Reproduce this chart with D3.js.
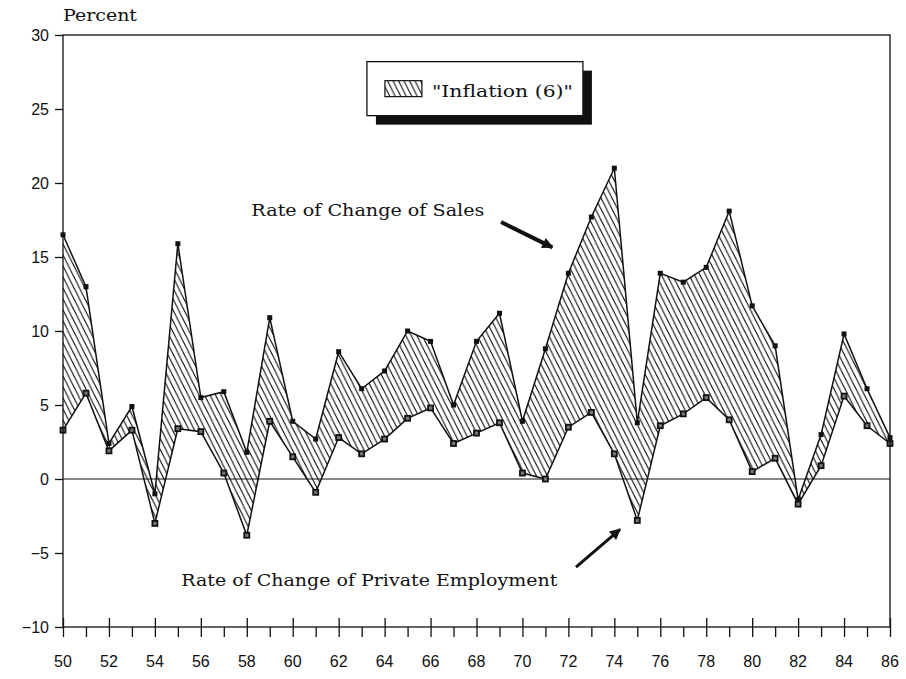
<!DOCTYPE html>
<html lang="en">
<head>
  <meta charset="UTF-8">
  <title>Rate of Change of Sales and Private Employment</title>
  <script src="https://d3js.org/d3.v7.min.js"></script>
  <style>
    body {
      margin: 0;
      padding: 0;
      background: #fff;
    }
    .axis text {
      font-family: 'Liberation Sans', Arial, sans-serif;
      font-size: 16px;
      fill: #111;
    }
    .axis path, .axis line {
      stroke: #111;
      stroke-width: 1.3;
    }
    .serif {
      font-family: 'DejaVu Serif', serif;
      font-size: 16px;
      fill: #111;
    }
  </style>
</head>
<body>
  <div id="chart"></div>

  <script>
    // years (19xx) and the two series, percent change
    const years = [50, 51, 52, 53, 54, 55, 56, 57, 58, 59, 60, 61, 62, 63, 64, 65, 66, 67, 68,
                   69, 70, 71, 72, 73, 74, 75, 76, 77, 78, 79, 80, 81, 82, 83, 84, 85, 86];
    const sales = [16.5, 13.0, 2.4, 4.9, -1.0, 15.9, 5.5, 5.9, 1.8, 10.9, 3.9, 2.7, 8.6, 6.1, 7.3, 10.0, 9.3, 5.0, 9.3,
                   11.2, 3.9, 8.8, 13.9, 17.7, 21.0, 3.8, 13.9, 13.3, 14.3, 18.1, 11.7, 9.0, -1.4, 3.0, 9.8, 6.1, 2.8];
    const employment = [3.3, 5.8, 1.9, 3.3, -3.0, 3.4, 3.2, 0.4, -3.8, 3.9, 1.5, -0.9, 2.8, 1.7, 2.7, 4.1, 4.8, 2.4, 3.1,
                        3.8, 0.4, 0.0, 3.5, 4.5, 1.7, -2.8, 3.6, 4.4, 5.5, 4.0, 0.5, 1.4, -1.7, 0.9, 5.6, 3.6, 2.4];
    const yTicks = [-10, -5, 0, 5, 10, 15, 20, 25, 30];
    const xLabelTicks = [50, 52, 54, 56, 58, 60, 62, 64, 66, 68, 70, 72, 74, 76, 78, 80, 82, 84, 86];
    const legendLabel = '"Inflation (6)"';

    const rows = years.map((yr, i) => ({ yr: yr, s: sales[i], e: employment[i] }));

    const W = 906, H = 679;
    const margin = { top: 35, right: 16, bottom: 52, left: 63 };
    const width = W - margin.left - margin.right;
    const height = H - margin.top - margin.bottom;

    const svg = d3.select("#chart").append("svg")
      .attr("width", W)
      .attr("height", H);

    const defs = svg.append("defs");

    // diagonal hatch "\\\\"
    const pat = defs.append("pattern")
      .attr("id", "hatch")
      .attr("patternUnits", "userSpaceOnUse")
      .attr("width", 5.5)
      .attr("height", 11);
    pat.append("path")
      .attr("d", "M-1,-2 L6.5,13 M-6.5,-2 L1,13 M4.5,-2 L12,13")
      .attr("stroke", "#111")
      .attr("stroke-width", 1.1);

    defs.append("marker")
      .attr("id", "arrowhead")
      .attr("viewBox", "0 0 10 10")
      .attr("refX", 9)
      .attr("refY", 5)
      .attr("markerUnits", "userSpaceOnUse")
      .attr("markerWidth", 13)
      .attr("markerHeight", 11)
      .attr("orient", "auto")
      .append("path")
      .attr("d", "M0,0 L10,5 L0,10 Z")
      .attr("fill", "#111");

    const g = svg.append("g")
      .attr("transform", `translate(${margin.left},${margin.top})`);

    const x = d3.scaleLinear().domain([50, 86]).range([0, width]);
    const y = d3.scaleLinear().domain([-10, 30]).range([height, 0]);

    // hatched band between the two series
    const band = d3.area()
      .x(d => x(d.yr))
      .y0(d => y(d.e))
      .y1(d => y(d.s));
    g.append("path")
      .datum(rows)
      .attr("d", band)
      .attr("fill", "url(#hatch)")
      .attr("stroke", "none");

    // zero line
    g.append("line")
      .attr("x1", 0).attr("x2", width)
      .attr("y1", y(0)).attr("y2", y(0))
      .attr("stroke", "#111")
      .attr("stroke-width", 1.2);

    // series lines
    const lineS = d3.line().x(d => x(d.yr)).y(d => y(d.s));
    const lineE = d3.line().x(d => x(d.yr)).y(d => y(d.e));
    g.append("path").datum(rows).attr("d", lineS)
      .attr("fill", "none").attr("stroke", "#111").attr("stroke-width", 1.5);
    g.append("path").datum(rows).attr("d", lineE)
      .attr("fill", "none").attr("stroke", "#111").attr("stroke-width", 1.5);

    // markers
    g.selectAll(".mk-s").data(rows).enter().append("rect")
      .attr("class", "mk-s")
      .attr("x", d => x(d.yr) - 2.5)
      .attr("y", d => y(d.s) - 2.5)
      .attr("width", 5).attr("height", 5)
      .attr("fill", "#111");
    g.selectAll(".mk-e").data(rows).enter().append("rect")
      .attr("class", "mk-e")
      .attr("x", d => x(d.yr) - 2.5)
      .attr("y", d => y(d.e) - 2.5)
      .attr("width", 5).attr("height", 5)
      .attr("fill", "#777")
      .attr("stroke", "#111")
      .attr("stroke-width", 1.8);

    // frame
    g.append("rect")
      .attr("width", width).attr("height", height)
      .attr("fill", "none")
      .attr("stroke", "#111")
      .attr("stroke-width", 1.3);

    // y axis
    const yAxis = g.append("g").attr("class", "axis")
      .call(d3.axisLeft(y).tickValues(yTicks).tickSize(8).tickPadding(6).tickFormat(d => d < 0 ? "\u2212" + Math.abs(d) : d));
    yAxis.select(".domain").remove();

    // x axis: every year ticks below, labelled even years also poke above
    const xAxis = g.append("g").attr("class", "axis")
      .attr("transform", `translate(0,${height})`)
      .call(d3.axisBottom(x).tickValues(years).tickSize(10).tickFormat(""));
    xAxis.select(".domain").remove();
    xAxis.selectAll(".tick line")
      .attr("y1", d => xLabelTicks.includes(d) ? -9 : 0);

    g.append("g").attr("class", "axis")
      .selectAll("text").data(xLabelTicks).enter().append("text")
      .attr("x", d => x(d))
      .attr("y", height + 40)
      .attr("text-anchor", "middle")
      .text(d => d);

    // y title
    svg.append("text")
      .attr("class", "serif")
      .attr("x", margin.left)
      .attr("y", 21)
      .attr("textLength", 74)
      .attr("lengthAdjust", "spacingAndGlyphs")
      .text("Percent");

    // legend with drop shadow
    const lg = g.append("g").attr("transform", `translate(${x(63.23)},${y(28.2)})`);
    lg.append("rect")
      .attr("x", 9).attr("y", 9)
      .attr("width", 216).attr("height", 54)
      .attr("fill", "#111");
    lg.append("rect")
      .attr("width", 216).attr("height", 54)
      .attr("fill", "#fff")
      .attr("stroke", "#111")
      .attr("stroke-width", 1.3);
    lg.append("rect")
      .attr("x", 18).attr("y", 19)
      .attr("width", 37).attr("height", 16)
      .attr("fill", "url(#hatch)")
      .attr("stroke", "#111")
      .attr("stroke-width", 1.2);
    lg.append("text")
      .attr("class", "serif")
      .attr("x", 65)
      .attr("y", 35)
      .attr("textLength", 141)
      .attr("lengthAdjust", "spacingAndGlyphs")
      .text(legendLabel);

    // annotations
    g.append("text")
      .attr("class", "serif")
      .attr("x", x(58.2))
      .attr("y", y(17.8))
      .attr("textLength", 233)
      .attr("lengthAdjust", "spacingAndGlyphs")
      .text("Rate of Change of Sales");
    g.append("line")
      .attr("x1", x(69.07)).attr("y1", y(17.36))
      .attr("x2", x(71.3)).attr("y2", y(15.65))
      .attr("stroke", "#111")
      .attr("stroke-width", 4)
      .attr("marker-end", "url(#arrowhead)");

    g.append("text")
      .attr("class", "serif")
      .attr("x", x(55.15))
      .attr("y", y(-7.25))
      .attr("textLength", 376)
      .attr("lengthAdjust", "spacingAndGlyphs")
      .text("Rate of Change of Private Employment");
    g.append("line")
      .attr("x1", x(72.33)).attr("y1", y(-5.95))
      .attr("x2", x(74.25)).attr("y2", y(-3.4))
      .attr("stroke", "#111")
      .attr("stroke-width", 3)
      .attr("marker-end", "url(#arrowhead)");
  </script>
</body>
</html>
